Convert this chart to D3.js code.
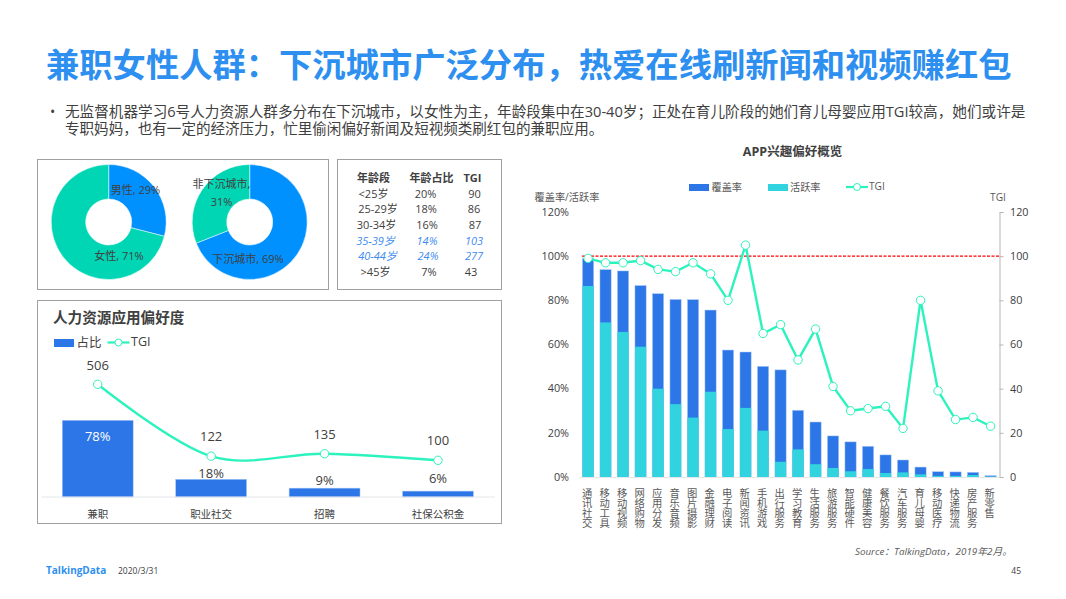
<!DOCTYPE html>
<html>
<head>
<meta charset="utf-8">
<script src="https://cdn.jsdelivr.net/npm/d3@7"></script>
<style>
  html, body { margin: 0; padding: 0; background: #fff; }
  svg { display: block; }
  text { font-family: "Open Sans", "Noto Sans CJK SC", sans-serif; fill: #404040; }
</style>
</head>
<body>
<svg id="chart" width="1066" height="599"></svg>
<script>
'use strict';

var genderLabels = ['男性, 29%', '女性, 71%'];
var genderValues = [29, 71];
var cityLabels = ['下沉城市, 69%', '非下沉城市,', '31%'];
var cityValues = [69, 31];

var ageHeader = ['年龄段', '年龄占比', 'TGI'];
var ageGroups = ['<25岁', '25-29岁', '30-34岁', '35-39岁', '40-44岁', '>45岁'];
var ageShares = ['20%', '18%', '16%', '14%', '24%', '7%'];
var ageTgi = ['90', '86', '87', '103', '277', '43'];
var ageHighlight = [false, false, false, true, true, false];

var hrCategories = ['兼职', '职业社交', '招聘', '社保公积金'];
var hrShares = [78, 18, 9, 6];
var hrTgi = [506, 122, 135, 100];

var appCategories = ['通讯社交', '移动工具', '移动视频', '网络购物', '应用分发', '音乐音频', '图片摄影', '金融理财',
  '电子阅读', '新闻资讯', '手机游戏', '出行服务', '学习教育', '生活服务', '旅游服务', '智能硬件',
  '健康美容', '餐饮服务', '汽车服务', '育儿母婴', '移动医疗', '快递物流', '房产服务', '新零售'];
var appCoverage = [99, 93.9, 93.3, 86.7, 83, 80.4, 80.3, 75.6, 57.5, 56.6, 50.1, 48.5,
  30.2, 24.9, 18.6, 15.9, 13.9, 10, 7.7, 4.5, 2.4, 2.3, 2.1, 0.6];
var appActive = [86.5, 70, 65.7, 59, 40, 33, 26.9, 38.6, 21.7, 31.3, 21, 6.9,
  12.5, 5.8, 4.1, 2.6, 3.6, 1.8, 2.1, 1.2, 0.5, 0.5, 0.9, 0.2];
var appTgi = [99, 97, 97, 98, 94, 93, 97, 92, 80, 105, 65, 69,
  53, 67, 41, 30, 31, 32, 22, 80, 39, 26, 27, 23];

var BLUE = '#2c76e8';
var CYAN = '#31d3de';
var LINE = '#2cf3bd';
var DONUT_BLUE = '#0091ff';
var DONUT_GREEN = '#00d6b4';
var BORDER = '#a0a0a0';
var BAR_EDGE = '#a9c8f6';

var svg = d3.select('#chart');

var addText = function (parent, x, y, str, size, opts) {
  opts = opts || {};
  return parent.append('text')
    .attr('x', x).attr('y', y - 0.8) // central baseline sits a bit low with these fonts
    .attr('font-size', size)
    .attr('text-anchor', opts.anchor || 'start')
    .attr('dominant-baseline', 'central')
    .attr('font-weight', opts.weight || 'normal')
    .attr('font-style', opts.style || 'normal')
    .style('fill', opts.fill || '#404040')
    .text(str);
};

var addBox = function (x, y, w, h) {
  svg.append('rect').attr('x', x).attr('y', y).attr('width', w).attr('height', h)
    .attr('fill', '#fff').attr('stroke', BORDER).attr('stroke-width', 1);
};

var legendLine = function (x, y, w) {
  svg.append('line').attr('x1', x).attr('x2', x + w).attr('y1', y).attr('y2', y)
    .attr('stroke', LINE).attr('stroke-width', 2.2);
  svg.append('circle').attr('cx', x + w / 2).attr('cy', y).attr('r', 3.5)
    .attr('fill', '#fff').attr('stroke', LINE).attr('stroke-width', 1);
};

// header
addText(svg, 46, 65, '兼职女性人群：下沉城市广泛分布，热爱在线刷新闻和视频赚红包', 33.3, {weight: 'bold', fill: '#2d8ff0'});
addText(svg, 50, 112, '•', 14);
addText(svg, 65, 112, '无监督机器学习6号人力资源人群多分布在下沉城市，以女性为主，年龄段集中在30-40岁；正处在育儿阶段的她们育儿母婴应用TGI较高，她们或许是', 14.62);
addText(svg, 65, 129, '专职妈妈，也有一定的经济压力，忙里偷闲偏好新闻及短视频类刷红包的兼职应用。', 14.55);

// donuts
addBox(37.5, 159.5, 291, 130);
addBox(337.5, 159.5, 164, 130);

var drawDonut = function (cx, cy, values, colours) {
  var arcs = d3.pie().sort(null)(values);
  var arc = d3.arc().innerRadius(23).outerRadius(57.5);
  svg.append('g').attr('transform', 'translate(' + cx + ',' + cy + ')')
    .selectAll('path').data(arcs).enter().append('path')
    .attr('d', arc)
    .attr('fill', function (d, i) { return colours[i]; })
    .attr('stroke', '#fff').attr('stroke-width', 0.5);
};
drawDonut(108.7, 222, genderValues, [DONUT_BLUE, DONUT_GREEN]);
drawDonut(249.7, 222, cityValues, [DONUT_BLUE, DONUT_GREEN]);

addText(svg, 135.5, 190, genderLabels[0], 11, {anchor: 'middle'});
addText(svg, 119, 256, genderLabels[1], 11, {anchor: 'middle'});
addText(svg, 248, 259, cityLabels[0], 11, {anchor: 'middle'});
addText(svg, 221.5, 184, cityLabels[1], 11, {anchor: 'middle'});
addText(svg, 221.5, 202, cityLabels[2], 11, {anchor: 'middle'});

// age table, the columns are not quite aligned in the original
var ageHeadX = [373.5, 431.5, 472.5];
ageHeader.forEach(function (h, i) {
  addText(svg, ageHeadX[i], 178, h, 11, {anchor: 'middle', weight: 'bold'});
});
var ageRowY = d3.scalePoint().domain(ageGroups).range([194, 272.3]);
var ageRowX = [[373.5, 425.5, 474.5], [378, 426, 474], [376.5, 427, 475], [375.5, 427, 474], [377.5, 428, 474], [375.5, 429, 471]];
ageGroups.forEach(function (g, i) {
  var y = ageRowY(g);
  var opts = ageHighlight[i]
    ? {anchor: 'middle', style: 'italic', fill: '#3f8cf0'}
    : {anchor: 'middle'};
  addText(svg, ageRowX[i][0], y, g, 11, opts);
  addText(svg, ageRowX[i][1], y, ageShares[i], 11, opts);
  addText(svg, ageRowX[i][2], y, ageTgi[i], 11, opts);
});

// hr panel
addBox(37.5, 300.5, 464, 223);
addText(svg, 53, 317.5, '人力资源应用偏好度', 14.6, {weight: 'bold'});
svg.append('rect').attr('x', 54).attr('y', 339).attr('width', 20).attr('height', 8).attr('fill', BLUE);
addText(svg, 76.5, 343, '占比', 12.5);
legendLine(107.5, 342.5, 22);
addText(svg, 131, 342.5, 'TGI', 12.5);

var hrX = d3.scaleBand().domain(hrCategories).range([41, 494.7]).paddingInner(0.375).paddingOuter(0.1875);
var hrY = d3.scaleLinear().domain([0, 78]).range([497, 420.3]);
var hrLineY = d3.scaleLinear().domain([0, 506]).range([479, 384.3]);
var hrCx = function (d) { return hrX(d) + hrX.bandwidth() / 2; };

svg.append('g').selectAll('rect').data(hrCategories).enter().append('rect')
  .attr('x', function (d) { return hrX(d); })
  .attr('y', function (d, i) { return hrY(hrShares[i]); })
  .attr('width', hrX.bandwidth())
  .attr('height', function (d, i) { return 497 - hrY(hrShares[i]); })
  .attr('fill', BLUE)
  .attr('stroke', BAR_EDGE).attr('stroke-width', 0.5);

svg.append('line').attr('x1', 41.5).attr('x2', 494.7).attr('y1', 497).attr('y2', 497)
  .attr('stroke', '#e4e6ea').attr('stroke-width', 1);

var hrLine = d3.line()
  .x(function (d) { return hrCx(d); })
  .y(function (d, i) { return hrLineY(hrTgi[i]); })
  .curve(d3.curveCardinal.tension(0));
svg.append('path').attr('d', hrLine(hrCategories))
  .attr('fill', 'none').attr('stroke', LINE).attr('stroke-width', 2.4);
svg.append('g').selectAll('circle').data(hrCategories).enter().append('circle')
  .attr('cx', hrCx)
  .attr('cy', function (d, i) { return hrLineY(hrTgi[i]); })
  .attr('r', 4.2).attr('fill', '#fff').attr('stroke', LINE).attr('stroke-width', 1);

var hrShareLift = [0, 6, 7.5, 12];
hrCategories.forEach(function (c, i) {
  addText(svg, hrCx(c), 515, c, 10.5, {anchor: 'middle'});
  addText(svg, hrCx(c), hrLineY(hrTgi[i]) - 19, hrTgi[i], 13, {anchor: 'middle'});
  if (i === 0) {
    addText(svg, hrCx(c), hrY(hrShares[i]) + 16, hrShares[i] + '%', 13, {anchor: 'middle', fill: '#fff'});
  } else {
    addText(svg, hrCx(c), hrY(hrShares[i]) - hrShareLift[i], hrShares[i] + '%', 13, {anchor: 'middle'});
  }
});

// app panel
addText(svg, 792.5, 152, 'APP兴趣偏好概览', 12.5, {anchor: 'middle', weight: 'bold'});

svg.append('rect').attr('x', 689).attr('y', 184).attr('width', 20).attr('height', 7).attr('fill', BLUE);
addText(svg, 711.5, 188, '覆盖率', 10.2, {fill: '#595959'});
svg.append('rect').attr('x', 768).attr('y', 184).attr('width', 20).attr('height', 7).attr('fill', CYAN);
addText(svg, 790, 188, '活跃率', 10.2, {fill: '#595959'});
legendLine(846, 187, 22);
addText(svg, 869, 187, 'TGI', 10.2, {fill: '#595959'});

addText(svg, 567, 198, '覆盖率/活跃率', 10.2, {anchor: 'middle', fill: '#595959'});
addText(svg, 998, 198, 'TGI', 10.2, {anchor: 'middle', fill: '#595959'});

var appX = d3.scaleBand().domain(appCategories).range([579.3, 999.3]).paddingInner(0.36).paddingOuter(0.18);
var appY = d3.scaleLinear().domain([0, 120]).range([477, 212]);
var tgiY = d3.scaleLinear().domain([0, 120]).range([477, 212]);
var appCx = function (d) { return appX(d) + appX.bandwidth() / 2; };

appY.ticks(6).forEach(function (t) {
  addText(svg, 569, appY(t), t + '%', 10.8, {anchor: 'end'});
});

var rightAxis = svg.append('g').attr('transform', 'translate(999.5,0)')
  .call(d3.axisRight(tgiY).ticks(6).tickSize(4).tickPadding(6.5));
rightAxis.select('.domain').attr('stroke', '#b5b5b5');
rightAxis.selectAll('.tick line').attr('stroke', '#b5b5b5');
rightAxis.selectAll('.tick text')
  .attr('font-size', 10.8)
  .style('font-family', '"Open Sans", "Noto Sans CJK SC", sans-serif');

svg.append('g').selectAll('rect').data(appCategories).enter().append('rect')
  .attr('x', function (d) { return appX(d); })
  .attr('y', function (d, i) { return appY(appCoverage[i]); })
  .attr('width', appX.bandwidth())
  .attr('height', function (d, i) { return appY(0) - appY(appCoverage[i]); })
  .attr('fill', BLUE)
  .attr('stroke', BAR_EDGE).attr('stroke-width', 0.5);

svg.append('g').selectAll('rect').data(appCategories).enter().append('rect')
  .attr('x', function (d) { return appX(d); })
  .attr('y', function (d, i) { return appY(appActive[i]); })
  .attr('width', appX.bandwidth())
  .attr('height', function (d, i) { return appY(0) - appY(appActive[i]); })
  .attr('fill', CYAN);

svg.append('line').attr('x1', 579.3).attr('x2', 999.3).attr('y1', 477.5).attr('y2', 477.5)
  .attr('stroke', '#e4e6ea').attr('stroke-width', 1);

svg.append('line').attr('x1', 582).attr('x2', 999.3).attr('y1', tgiY(100)).attr('y2', tgiY(100))
  .attr('stroke', '#ff0000').attr('stroke-width', 1.2).attr('stroke-dasharray', '3,1.5');

var appLine = d3.line()
  .x(function (d) { return appCx(d); })
  .y(function (d, i) { return tgiY(appTgi[i]); });
svg.append('path').attr('d', appLine(appCategories))
  .attr('fill', 'none').attr('stroke', LINE).attr('stroke-width', 2.4);
svg.append('g').selectAll('circle').data(appCategories).enter().append('circle')
  .attr('cx', appCx)
  .attr('cy', function (d, i) { return tgiY(appTgi[i]); })
  .attr('r', 4.2).attr('fill', '#fff').attr('stroke', LINE).attr('stroke-width', 1);

// vertical category labels
svg.append('g').selectAll('text').data(appCategories).enter().append('text')
  .attr('x', function (d) { return appCx(d) - 1.5; })
  .attr('y', 487.5)
  .attr('font-size', 10.3)
  .style('writing-mode', 'vertical-rl')
  .style('text-orientation', 'upright')
  .style('fill', '#595959')
  .text(function (d) { return d; });

// footer
addText(svg, 855, 552, 'Source：TalkingData，2019年2月。', 9.8, {style: 'italic', fill: '#595959'});
addText(svg, 46, 571, 'TalkingData', 10, {weight: 'bold', fill: '#2d8ff0'});
addText(svg, 118, 571, '2020/3/31', 8.5);
addText(svg, 1021, 571, '45', 8.5, {anchor: 'end'});
</script>
</body>
</html>
